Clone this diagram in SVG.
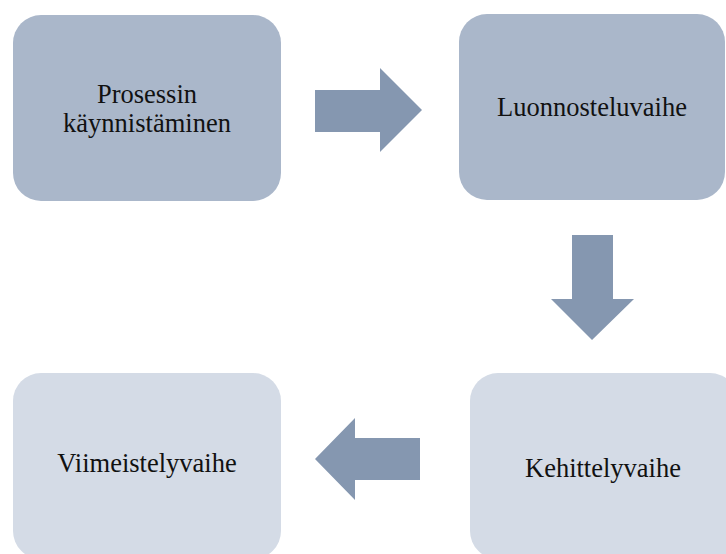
<svg xmlns="http://www.w3.org/2000/svg" width="726" height="554" viewBox="0 0 726 554">
  <style>
    .dark { fill: #aab7ca; }
    .light { fill: #d4dbe6; }
    .arrow { fill: #8597b0; }
    .label { font-size: 26.5px; fill: #111; text-anchor: middle; }
  </style>
  <rect width="726" height="554" fill="#ffffff"/>

  <g id="node-kaynnistaminen">
    <rect class="dark" x="13" y="15" width="268" height="186" rx="28" ry="28"/>
    <text class="label" font-family="Liberation Serif, DejaVu Serif, serif" x="147" y="103">Prosessin</text>
    <text class="label" font-family="Liberation Serif, DejaVu Serif, serif" x="147" y="132">käynnistäminen</text>
  </g>

  <g id="node-luonnostelu">
    <rect class="dark" x="459" y="14" width="266" height="186" rx="28" ry="28"/>
    <text class="label" font-family="Liberation Serif, DejaVu Serif, serif" x="592" y="116">Luonnosteluvaihe</text>
  </g>

  <g id="node-kehittely">
    <rect class="light" x="470" y="373" width="268" height="186" rx="28" ry="28"/>
    <text class="label" font-family="Liberation Serif, DejaVu Serif, serif" x="603" y="477">Kehittelyvaihe</text>
  </g>

  <g id="node-viimeistely">
    <rect class="light" x="13" y="373" width="268" height="186" rx="28" ry="28"/>
    <text class="label" font-family="Liberation Serif, DejaVu Serif, serif" x="147" y="472">Viimeistelyvaihe</text>
  </g>

  <g id="connectors">
    <polygon class="arrow" points="315,90 380,90 380,68 422,110 380,152 380,132 315,132"/>
    <polygon class="arrow" points="572,235 613,235 613,299 634,299 592,340 551,299 572,299"/>
    <polygon class="arrow" points="420,438 355,438 355,418 315,459 355,500 355,480 420,480"/>
  </g>
</svg>
